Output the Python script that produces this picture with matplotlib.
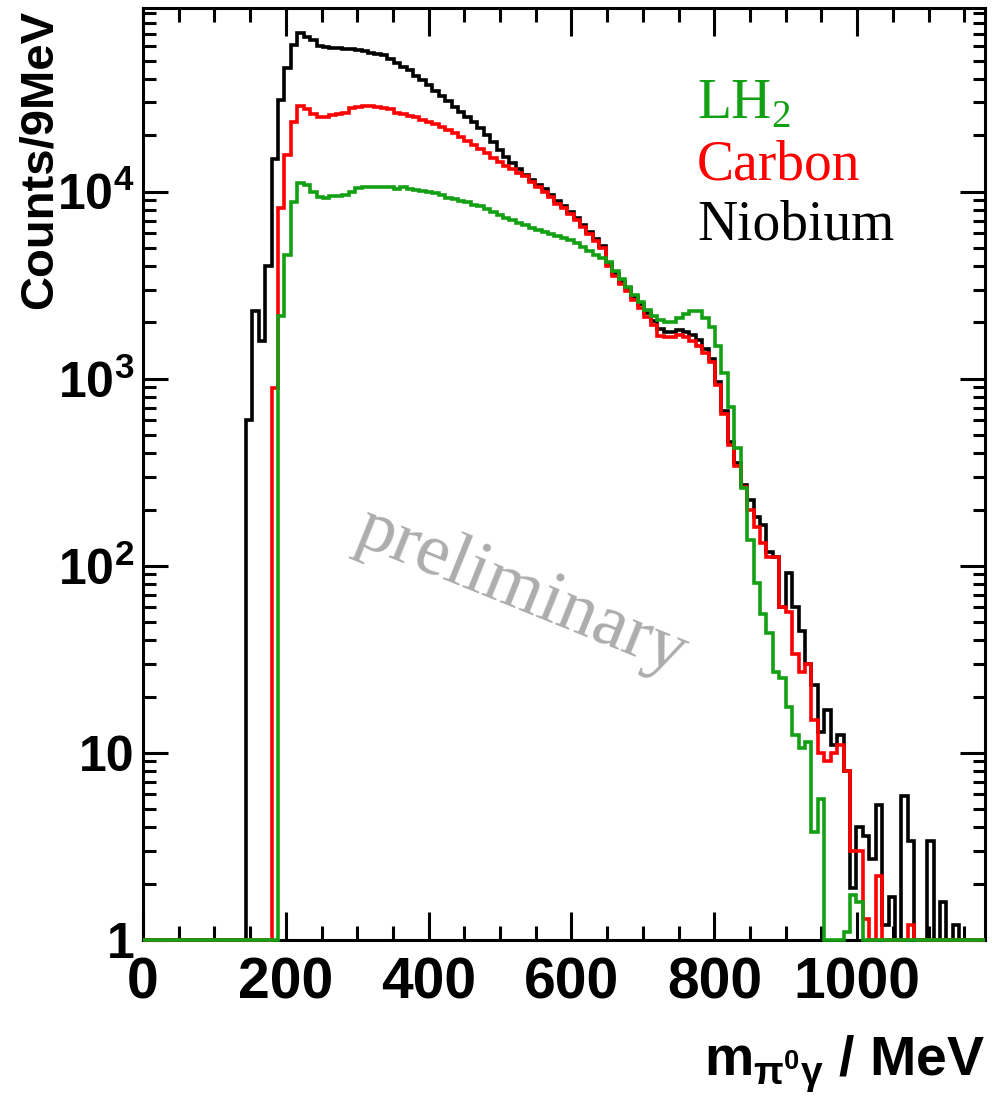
import numpy as np
import matplotlib
matplotlib.use('Agg')
import matplotlib.pyplot as plt
from matplotlib.ticker import LogLocator, MultipleLocator, NullFormatter

# Histogram binning: 9 MeV bins from 0 to 1179 MeV
bin_width = 9
x_max = 1179
y_min = 1
y_max = 9.6e4

# lower edge (MeV) of the first filled bin of each histogram
niobium_start = 144
carbon_start = 180
lh2_start = 189

# counts per 9 MeV bin
niobium_counts = [600, 2300, 1600, 4000, 15000, 31000, 46000, 61000, 71000, 67000,
                  65000, 60000, 59500, 59000, 58500, 58000, 58000, 57500, 56500, 55500,
                  54500, 54000, 51400, 49000, 46700, 44500, 41700, 39700, 37300, 34700,
                  32600, 30700, 28500, 26800, 25200, 23700, 22000, 20200, 18500, 16800,
                  15400, 14300, 13300, 12300, 11500, 10800, 10300, 9650, 8960, 8420,
                  7820, 7260, 6660, 6110, 5610, 5140, 4150, 3650, 3300, 3070,
                  2740, 2500, 2240, 2030, 1840, 1790, 1790, 1830, 1790, 1720,
                  1620, 1450, 1280, 960, 670, 460, 355, 270, 225, 183,
                  166, 119, 111, 60, 92, 60, 45, 30, 23, 13,
                  17, 11, 12.5, 8, 1.9, 4, 3.6, 2.7, 5.3, 1.2,
                  1.7, 0, 5.9, 3.4, 0, 0, 3.4, 0, 1.6, 0, 1.2]

carbon_counts = [890, 8200, 15800, 23700, 28800, 27700, 26100, 25000, 25000, 25700,
                 26000, 26500, 28000, 28400, 28800, 28800, 28400, 28000, 27700, 26500,
                 26100, 25500, 25000, 24200, 23700, 23100, 22300, 21400, 20600, 19600,
                 18600, 17800, 17000, 16200, 15200, 14500, 13700, 13200, 12600, 12100,
                 11300, 10600, 10000, 9400, 8600, 8200, 7600, 7080, 6490, 5960,
                 5480, 5030, 4000, 3550, 3200, 2950, 2650, 2400, 2150, 1950,
                 1700, 1680, 1680, 1720, 1680, 1600, 1500, 1380, 1230, 930,
                 650, 444, 343, 265, 200, 162, 133, 111, 111, 60,
                 57, 34, 27, 30, 15, 10, 9, 10, 11, 8,
                 3, 3, 1.3, 0, 2.2, 0, 0, 0, 0, 1.2]

lh2_counts = [2170, 4600, 8800, 11100, 10900, 10000, 9400, 9300, 9500, 9500,
              9600, 10000, 10500, 10600, 10600, 10600, 10600, 10600, 10400, 10600,
              10300, 10200, 10100, 10000, 9900, 9600, 9300, 9200, 8900, 8800,
              8500, 8400, 8100, 7800, 7500, 7200, 7080, 6800, 6650, 6400,
              6250, 6100, 5960, 5800, 5680, 5540, 5330, 5070, 4830, 4600,
              4440, 4230, 3750, 3430, 3110, 2800, 2560, 2340, 2170, 2060,
              2010, 2010, 2120, 2220, 2300, 2300, 2120, 1900, 1490, 1080,
              710, 425, 262, 138, 81, 55, 44, 27, 25, 17.6,
              12.5, 10.6, 11.5, 3.8, 5.7, 0, 0, 0, 1.1, 1.75, 1.6]

x_ticks = [0, 200, 400, 600, 800, 1000]
x_tick_labels = ['0', '200', '400', '600', '800', '1000']
y_ticks = [1, 10, 100, 1000, 10000]
y_tick_labels = ['1', '10', r'$\mathregular{10^{2}}$', r'$\mathregular{10^{3}}$',
                 r'$\mathregular{10^{4}}$']
legend_names = [r'LH$_{\mathregular{2}}$', 'Carbon', 'Niobium']
green = '#14a014'
colors = [green, 'red', 'black']

plt.rcParams['font.family'] = ['Liberation Sans', 'DejaVu Sans']

edges = np.arange(0, x_max + 1, bin_width)


def full_hist(start, counts):
    # put the filled bins into an array covering the whole axis
    vals = np.zeros(len(edges) - 1)
    i0 = start // bin_width
    vals[i0:i0 + len(counts)] = counts
    # empty bins are drawn on the bottom of the frame, like ROOT does
    return np.maximum(vals, y_min)


fig = plt.figure(figsize=(9.92, 11.05), dpi=100)
ax = fig.add_axes([143 / 992, 165 / 1105, 842 / 992, 932 / 1105])

# Niobium first, then Carbon, then LH2 on top (above the frame too)
lw = 2.6
ax.stairs(full_hist(niobium_start, niobium_counts), edges, color='black', lw=lw,
          baseline=None, clip_on=False, zorder=3)
ax.stairs(full_hist(carbon_start, carbon_counts), edges, color='red', lw=lw,
          baseline=None, clip_on=False, zorder=3.1)
ax.stairs(full_hist(lh2_start, lh2_counts), edges, color=green, lw=lw,
          baseline=None, clip_on=False, zorder=3.2)

ax.set_yscale('log')
ax.set_xlim(0, x_max)
ax.set_ylim(y_min, y_max)

ax.set_xticks(x_ticks)
ax.set_xticklabels(x_tick_labels, fontsize=41, fontweight='bold')
ax.xaxis.set_minor_locator(MultipleLocator(50))
ax.set_yticks(y_ticks)
ax.set_yticklabels(y_tick_labels, fontsize=36, fontweight='bold')
ax.yaxis.set_minor_locator(LogLocator(base=10, subs=np.arange(2, 10)))
ax.yaxis.set_minor_formatter(NullFormatter())

ax.tick_params(which='both', direction='in', top=True, right=True, width=2.2)
ax.tick_params(axis='x', which='major', length=20, pad=12)
ax.tick_params(axis='x', which='minor', length=10)
ax.tick_params(axis='y', which='major', length=18, pad=6)
ax.tick_params(axis='y', which='minor', length=9)
for s in ax.spines.values():
    s.set_linewidth(2.2)

# axis titles
fig.text(985 / 992, 1 - 1075 / 1105, r'm$_{\mathregular{\pi^{0}\gamma}}$ / MeV',
         fontsize=40, fontweight='bold', ha='right', va='baseline')
fig.text(40 / 992, 1 - 10 / 1105, 'Counts/9MeV', fontsize=34, fontweight='bold',
         rotation=90, ha='center', va='top')

# legend written as coloured text
for i, name in enumerate(legend_names):
    fig.text(697 / 992, 1 - (118 + 61 * i) / 1105, name, color=colors[i],
             fontsize=40, family='Liberation Serif', ha='left', va='baseline')

# watermark
fig.text(522 / 992, 1 - 592 / 1105, 'preliminary', color='#adadad', fontsize=54,
         family='Liberation Serif', rotation=-22, ha='center', va='center',
         rotation_mode='anchor')

fig.savefig('out.png', dpi=100)
